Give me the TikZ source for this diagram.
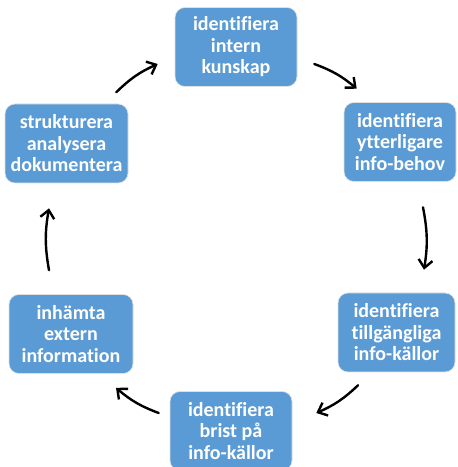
\documentclass[tikz,border=0pt]{standalone}
\usepackage{fontspec}
\setmainfont{Carlito}[Ligatures=NoCommon]
\usetikzlibrary{arrows.meta}
\definecolor{boxblue}{HTML}{5B9BD5}
\tikzset{
	stepbox/.style={rectangle, rounded corners=10pt, fill=boxblue, draw=black!12, line width=0.6pt, text=white, font=\bfseries\fontsize{20}{21.5}\selectfont, align=center, minimum height=79pt, inner sep=2pt},
	cyclearrow/.style={line width=2.4pt, line cap=round, -{Straight Barb[length=8pt,width=14pt]}, bend left=10}
}

\begin{document}
\begin{tikzpicture}[x=1pt,y=1pt]
		\useasboundingbox (0,0) rectangle (458,467);
		\node [stepbox, minimum width=122pt] (intern) at (236,420) {identifiera\\intern\\kunskap};
		\node [stepbox, minimum width=112pt] (behov) at (400,325) {identifiera\\ytterligare\\info-behov};
		\node [stepbox, minimum width=117pt] (kallor) at (396.5,134.5) {identifiera\\tillgängliga\\info-källor};
		\node [stepbox, minimum width=122pt] (brist) at (231,36) {identifiera\\brist på\\info-källor};
		\node [stepbox, minimum width=124pt] (extern) at (71,133) {inhämta\\extern\\information};
		\node [stepbox, minimum width=123pt] (analys) at (66.5,323.5) {strukturera\\analysera\\dokumentera};
		\draw [cyclearrow] ([shift={(17,-17)}]intern.east) to ([shift={(13,13.5)}]behov.north west);
		\draw [cyclearrow] ([shift={(23,-25.5)}]behov.south) to ([shift={(27.5,23)}]kallor.north);
		\draw [cyclearrow] ([shift={(-38.5,-13)}]kallor.south) to ([shift={(24,18)}]brist.east);
		\draw [cyclearrow] ([shift={(-11,18)}]brist.west) to ([shift={(45,-14)}]extern.south);
		\draw [cyclearrow] ([shift={(-22,24)}]extern.north) to ([shift={(-17.5,-25)}]analys.south);
		\draw [cyclearrow] ([shift={(-12,11.5)}]analys.north east) to ([shift={(-17,-17)}]intern.west);
\end{tikzpicture}
\end{document}
